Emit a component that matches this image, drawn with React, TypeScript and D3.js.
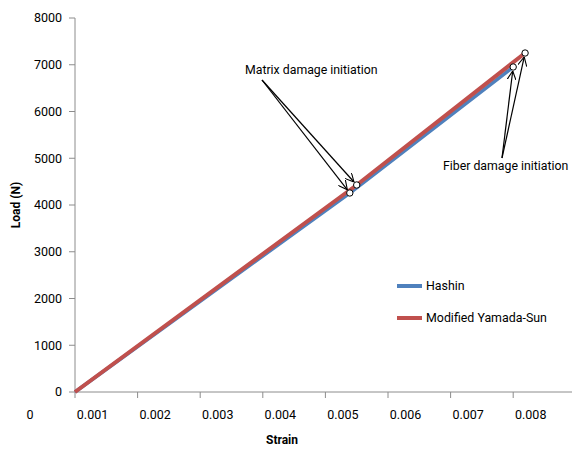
import React from "react";
import * as d3 from "d3";

const seriesNames = ["Hashin", "Modified Yamada-Sun"];
const seriesColors = ["#4F81BD", "#C0504D"];
const hashinStrain = [0.00072, 0.00511, 0.00772];
const hashinLoad = [0, 4257, 6952];
const yamadaStrain = [0.00072, 0.00522, 0.00791];
const yamadaLoad = [0, 4428, 7251];
const xTickLabels = ["0", "0.001", "0.002", "0.003", "0.004", "0.005", "0.006", "0.007", "0.008"];
const xTickValues = [0.00072, 0.00172, 0.00272, 0.00372, 0.00472, 0.00572, 0.00672, 0.00772];
const yTicks = [0, 1000, 2000, 3000, 4000, 5000, 6000, 7000, 8000];

const W = 574;
const H = 457;
const FONT = "Roboto, 'Noto Sans', sans-serif";

export default function App() {
  const x = d3.scaleLinear().domain([0.00072, 0.00872]).range([75, 575.8]);
  const y = d3.scaleLinear().domain([0, 8000]).range([392, 18]);

  const line = d3
    .line<[number, number]>()
    .x((d) => x(d[0]))
    .y((d) => y(d[1]));

  const hashin: [number, number][] = hashinStrain.map((s, i) => [s, hashinLoad[i]]);
  const yamada: [number, number][] = yamadaStrain.map((s, i) => [s, yamadaLoad[i]]);

  const matrixPts = [
    [x(hashinStrain[1]), y(hashinLoad[1])],
    [x(yamadaStrain[1]), y(yamadaLoad[1])],
  ];
  const fiberPts = [
    [x(hashinStrain[2]), y(hashinLoad[2])],
    [x(yamadaStrain[2]), y(yamadaLoad[2])],
  ];

  const arrowTo = (sx: number, sy: number, tx: number, ty: number, back: number) => {
    const dx = tx - sx;
    const dy = ty - sy;
    const len = Math.hypot(dx, dy);
    return [sx, sy, tx - (dx / len) * back, ty - (dy / len) * back];
  };

  const matrixStart = [262, 80];
  const fiberStart = [502, 158];

  return (
    <svg
      width={W}
      height={H}
      style={{ position: "absolute", left: 0, top: 0, background: "#fff" }}
      fontFamily={FONT}
    >
      <defs>
        <marker
          id="arr"
          viewBox="0 0 10 10"
          refX="10"
          refY="5"
          markerWidth="9"
          markerHeight="9"
          markerUnits="userSpaceOnUse"
          orient="auto"
        >
          <path d="M0,0 L10,5 L0,10" fill="none" stroke="#000" strokeWidth="1.2" />
        </marker>
      </defs>

      {/* axes */}
      <line x1={75} y1={y(8000)} x2={75} y2={392} stroke="#8c8c8c" strokeWidth={1} />
      <line x1={75} y1={392} x2={572} y2={392} stroke="#8c8c8c" strokeWidth={1} />
      {yTicks.map((t) => (
        <g key={"y" + t}>
          <line x1={69} x2={75} y1={y(t)} y2={y(t)} stroke="#8c8c8c" />
          <text x={62} y={y(t)} dy="0.35em" textAnchor="end" fontSize={12.5} fill="#000">
            {t}
          </text>
        </g>
      ))}
      {xTickValues.map((t, i) => (
        <line key={"xt" + i} x1={x(t)} x2={x(t)} y1={392} y2={398} stroke="#8c8c8c" />
      ))}
      {xTickLabels.map((lab, i) => (
        <text key={"xl" + i} x={x(i * 0.001)} y={415} dy="0.35em" textAnchor="middle" fontSize={12.5} fill="#000">
          {lab}
        </text>
      ))}

      {/* axis titles */}
      <text x={282} y={440} dy="0.35em" textAnchor="middle" fontSize={12} fontWeight="bold">
        Strain
      </text>
      <text
        transform={`translate(16,205) rotate(-90)`}
        dy="0.35em"
        textAnchor="middle"
        fontSize={12}
        fontWeight="bold"
      >
        Load (N)
      </text>

      {/* series */}
      <path d={line(hashin) || ""} fill="none" stroke={seriesColors[0]} strokeWidth={3.5} />
      <path d={line(yamada) || ""} fill="none" stroke={seriesColors[1]} strokeWidth={4} />

      {/* damage markers */}
      {[...matrixPts, ...fiberPts].map((p, i) => (
        <circle key={"c" + i} cx={p[0]} cy={p[1]} r={3.2} fill="#fff" stroke="#000" strokeWidth={1} />
      ))}

      {/* annotations */}
      <text x={245} y={70} dy="0.35em" fontSize={12.3} fill="#000">
        Matrix damage initiation
      </text>
      {matrixPts.map((p, i) => {
        const [a, b, c, d] = arrowTo(matrixStart[0], matrixStart[1], p[0], p[1], 4);
        return <line key={"ma" + i} x1={a} y1={b} x2={c} y2={d} stroke="#000" strokeWidth={1.2} markerEnd="url(#arr)" />;
      })}
      <text x={443} y={166} dy="0.35em" fontSize={12.3} fill="#000">
        Fiber damage initiation
      </text>
      {fiberPts.map((p, i) => {
        const [a, b, c, d] = arrowTo(fiberStart[0], fiberStart[1], p[0], p[1], 4);
        return <line key={"fa" + i} x1={a} y1={b} x2={c} y2={d} stroke="#000" strokeWidth={1.2} markerEnd="url(#arr)" />;
      })}

      {/* legend */}
      {seriesNames.map((n, i) => (
        <g key={"lg" + i}>
          <line x1={397} x2={422} y1={286 + i * 32} y2={286 + i * 32} stroke={seriesColors[i]} strokeWidth={4} />
          <text x={426} y={286 + i * 32} dy="0.35em" fontSize={12.4} fill="#000">
            {n}
          </text>
        </g>
      ))}
    </svg>
  );
}
